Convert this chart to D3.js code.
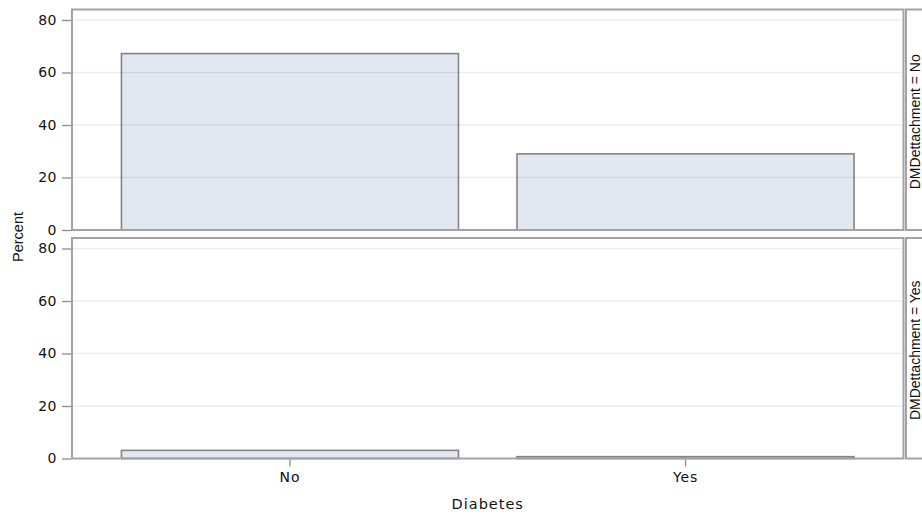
<!DOCTYPE html>
<html>
<head>
<meta charset="utf-8">
<script src="https://cdn.jsdelivr.net/npm/d3@7"></script>
<style>
  html, body { margin: 0; padding: 0; background: #fff; }
  svg { display: block; }
</style>
</head>
<body>
<svg id="chart" width="922" height="518"></svg>
<script>
// Categories along the x axis and the panel (row) groups
const diabetesCats = ["No", "Yes"];
const panelGroups = ["No", "Yes"];
// Percent of all patients, one array per DMDettachment panel
const pctDetachNo = [67.2, 29.0];
const pctDetachYes = [3.1, 0.7];
const yTicks = [0, 20, 40, 60, 80];

const panelValues = [pctDetachNo, pctDetachYes];

const svg = d3.select("#chart");
const left = 72, right = 903.5;
const panelTops = [9.5, 238];
const panelH = 220.5;

const tickFont = "'DejaVu Sans', sans-serif";
const labelFont = "'Liberation Sans', Arial, sans-serif";
const frameColor = "#a3a3a3";
const textColor = "#111";

const x = d3.scaleBand()
  .domain(diabetesCats)
  .range([left, right])
  .paddingInner(0.148)
  .paddingOuter(0.125);

const y = d3.scaleLinear().domain([0, 84]).range([panelH, 0]);

panelGroups.forEach((grp, i) => {
  const g = svg.append("g").attr("transform", `translate(0,${panelTops[i]})`);
  const vals = panelValues[i];

  // bars
  g.selectAll("rect.bar")
    .data(diabetesCats.map((c, j) => ({ cat: c, v: vals[j] })))
    .join("rect")
    .attr("class", "bar")
    .attr("x", d => x(d.cat))
    .attr("width", x.bandwidth())
    .attr("y", d => y(d.v))
    .attr("height", d => y(0) - y(d.v))
    .attr("fill", "#e3e7f0")
    .attr("stroke", "#828488")
    .attr("stroke-width", 1.6);

  // horizontal grid lines, drawn over the translucent bars
  g.selectAll("line.grid")
    .data(yTicks.filter(t => t > 0))
    .join("line")
    .attr("class", "grid")
    .attr("x1", left).attr("x2", right)
    .attr("y1", d => y(d)).attr("y2", d => y(d))
    .attr("stroke", "rgba(0,0,0,0.075)")
    .attr("stroke-width", 1.3);

  // panel frame
  g.append("rect")
    .attr("x", left).attr("y", 0)
    .attr("width", right - left).attr("height", panelH)
    .attr("fill", "none")
    .attr("stroke", frameColor)
    .attr("stroke-width", 2);

  // y axis
  const yAxis = d3.axisLeft(y).tickValues(yTicks).tickSize(9).tickPadding(5);
  const ya = g.append("g").attr("transform", `translate(${left - 1},0)`).call(yAxis);
  ya.select(".domain").remove();
  ya.selectAll(".tick line").attr("stroke", "#8c8c8c").attr("stroke-width", 1.3);
  ya.selectAll(".tick text")
    .attr("font-family", tickFont)
    .attr("font-size", 14)
    .attr("letter-spacing", 0.5)
    .attr("fill", textColor);

  // strip label on the right
  const sx = 906;
  g.append("rect")
    .attr("x", sx).attr("y", 0)
    .attr("width", 24).attr("height", panelH)
    .attr("fill", "#fff")
    .attr("stroke", frameColor)
    .attr("stroke-width", 2);
  g.append("text")
    .attr("transform", `translate(${915},${panelH / 2 + 2}) rotate(-90)`)
    .attr("text-anchor", "middle")
    .attr("dominant-baseline", "central")
    .attr("font-family", labelFont)
    .attr("font-size", 14)
    .attr("fill", textColor)
    .text(`DMDettachment = ${grp}`);
});

// x axis under the bottom panel
const xAxis = d3.axisBottom(x).tickSize(7).tickPadding(6);
const xa = svg.append("g")
  .attr("transform", `translate(0,${panelTops[1] + panelH + 1})`)
  .call(xAxis);
xa.select(".domain").remove();
xa.selectAll(".tick line").attr("stroke", "#8c8c8c").attr("stroke-width", 1.3);
xa.selectAll(".tick text")
  .attr("font-family", tickFont)
  .attr("font-size", 14)
  .attr("letter-spacing", 0.9)
  .attr("fill", textColor);

// axis titles
svg.append("text")
  .attr("x", (left + right) / 2).attr("y", 509)
  .attr("text-anchor", "middle")
  .attr("font-family", tickFont)
  .attr("font-size", 14.5)
  .attr("letter-spacing", 1)
  .attr("fill", textColor)
  .text("Diabetes");

svg.append("text")
  .attr("transform", `translate(18,237) rotate(-90)`)
  .attr("text-anchor", "middle")
  .attr("dominant-baseline", "central")
  .attr("font-family", labelFont)
  .attr("font-size", 14.5)
  .attr("fill", textColor)
  .text("Percent");
</script>
</body>
</html>
